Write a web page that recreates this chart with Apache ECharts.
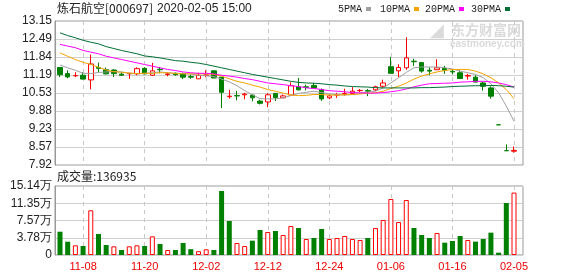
<!DOCTYPE html>
<html><head><meta charset="utf-8">
<script src="https://cdn.jsdelivr.net/npm/echarts@6/dist/echarts.min.js"></script>
<style>html,body{margin:0;padding:0;background:#fff}#c{width:578px;height:276px}</style>
</head><body><div id="c"></div>
<script>
var dates = ['11-05','11-06','11-07','11-08','11-11','11-12','11-13','11-14','11-15','11-18','11-19','11-20','11-21','11-22','11-25','11-26','11-27','11-28','11-29',
'12-02','12-03','12-04','12-05','12-06','12-09','12-10','12-11','12-12','12-13','12-16','12-17','12-18','12-19','12-20','12-23','12-24','12-25','12-26','12-27','12-30','12-31',
'01-02','01-03','01-06','01-07','01-08','01-09','01-10','01-13','01-14','01-15','01-16','01-17','01-20','01-21','01-22','01-23',
'02-03','02-04','02-05'];
var opens = [11.46,11.24,11.16,11.18,11.01,11.46,11.38,11.37,11.22,11.23,11.23,11.43,11.18,11.40,11.21,11.25,11.23,11.13,11.05,11.17,11.34,11.11,10.40,10.44,10.47,10.46,10.24,10.21,10.52,10.36,10.46,10.77,10.76,10.81,10.66,10.36,10.46,10.50,10.52,10.62,10.62,10.65,10.78,11.49,11.34,11.45,11.69,11.64,11.36,11.38,11.43,11.32,11.27,11.15,11.11,10.90,10.72,9.38,8.44,8.42];
var closes = [11.20,11.12,11.17,11.04,11.59,11.43,11.23,11.24,11.18,11.25,11.42,11.23,11.34,11.38,11.23,11.20,11.11,11.11,11.18,11.19,11.08,10.56,10.42,10.43,10.50,10.36,10.16,10.47,10.37,10.43,10.80,10.65,10.74,10.72,10.32,10.43,10.48,10.52,10.60,10.63,10.60,10.76,10.90,11.25,11.46,11.81,11.67,11.33,11.33,11.45,11.36,11.30,11.06,11.17,10.93,10.78,10.42,9.38,8.44,8.45];
var lows = [11.11,11.07,11.11,11.03,10.67,11.29,11.21,11.12,11.15,11.05,11.18,11.21,11.15,11.25,11.14,11.16,11.04,11.05,11.05,11.11,11.08,9.99,10.33,10.27,10.31,10.23,10.12,10.02,10.24,10.35,10.46,10.63,10.63,10.70,10.25,10.31,10.36,10.44,10.51,10.57,10.42,10.60,10.72,11.25,11.11,11.38,11.52,11.27,11.18,11.38,11.23,11.21,11.06,11.02,10.93,10.62,10.33,9.38,8.44,8.37];
var highs = [11.48,11.36,11.29,11.29,11.93,11.64,11.46,11.40,11.28,11.26,11.47,11.47,11.63,11.48,11.28,11.28,11.27,11.21,11.27,11.36,11.36,11.12,10.65,10.61,10.54,10.48,10.29,10.53,10.54,10.48,10.92,11.08,10.84,10.90,10.70,10.48,10.54,10.69,10.75,10.68,10.68,10.80,11.02,11.84,11.58,12.56,11.78,11.65,11.47,11.76,11.52,11.39,11.35,11.23,11.18,10.94,10.78,9.38,8.67,8.59];
var ma5 = [11.55,11.45,11.36,11.25,11.24,11.28,11.30,11.31,11.30,11.25,11.24,11.25,11.27,11.30,11.27,11.25,11.25,11.22,11.18,11.16,11.13,11.04,10.94,10.80,10.62,10.47,10.33,10.32,10.32,10.36,10.44,10.52,10.56,10.60,10.55,10.50,10.48,10.46,10.48,10.54,10.57,10.60,10.72,10.90,11.09,11.28,11.45,11.48,11.48,11.48,11.45,11.41,11.33,11.27,11.21,11.09,10.87,10.54,10.06,9.51];
var ma10 = [11.99,11.87,11.75,11.65,11.57,11.47,11.37,11.31,11.29,11.26,11.24,11.25,11.25,11.27,11.27,11.24,11.23,11.23,11.23,11.23,11.21,11.15,11.05,10.96,10.90,10.82,10.75,10.66,10.60,10.53,10.46,10.44,10.45,10.48,10.48,10.46,10.46,10.47,10.48,10.50,10.53,10.54,10.60,10.70,10.78,10.90,11.04,11.15,11.23,11.30,11.35,11.39,11.39,11.39,11.33,11.23,11.09,10.90,10.66,10.33];
var ma20 = [12.30,12.24,12.18,12.08,12.02,11.96,11.87,11.81,11.75,11.69,11.63,11.57,11.51,11.45,11.39,11.35,11.30,11.27,11.25,11.25,11.23,11.18,11.15,11.11,11.06,11.02,10.96,10.90,10.87,10.84,10.80,10.77,10.72,10.70,10.66,10.62,10.60,10.58,10.55,10.54,10.53,10.53,10.55,10.58,10.62,10.68,10.76,10.82,10.87,10.88,10.89,10.90,10.93,10.94,10.96,10.96,10.94,10.90,10.84,10.75];
var ma30 = [12.72,12.62,12.54,12.45,12.38,12.32,12.22,12.15,12.08,12.02,11.96,11.88,11.85,11.81,11.76,11.71,11.69,11.65,11.62,11.57,11.51,11.45,11.39,11.33,11.27,11.21,11.16,11.11,11.06,11.01,10.96,10.92,10.90,10.89,10.87,10.84,10.82,10.79,10.77,10.76,10.75,10.73,10.72,10.72,10.72,10.72,10.72,10.73,10.73,10.74,10.75,10.77,10.78,10.79,10.80,10.80,10.81,10.80,10.78,10.75];
var volumes = [51100,29200,21200,19700,98100,46100,21900,19000,11000,19000,21200,19700,41000,24100,11000,11000,26300,12800,8400,12500,11000,140400,74600,26300,19700,31400,54900,50500,52700,43900,63600,59200,35100,37300,57000,35100,37300,41700,35100,32900,37300,59200,76800,122900,72400,120700,59200,43900,37300,48300,27000,30700,41700,32900,29300,35100,49000,5100,114100,136935];
var volUp = [0,0,1,0,1,0,0,1,0,1,1,0,1,0,1,0,0,0,1,1,0,0,0,1,1,0,0,1,0,1,1,0,1,0,0,1,1,1,1,1,0,1,1,1,1,1,0,0,0,1,0,0,0,1,0,0,0,0,0,1];
var priceTicks = ['7.92','8.57','9.23','9.88','10.53','11.19','11.84','12.49','13.15'];
var volTicks = ['0','3.78万','7.57万','11.35万','15.14万'];
var priceMin = 7.92, priceMax = 13.15, volMax = 151400;
var titleName = '炼石航空[000697]', titleTime = '2020-02-05 15:00';
var volTitle = '成交量:136935';
var maNames = ['5PMA','10PMA','20PMA','30PMA'];
var maColors = ['#a0a0a0','#f5a400','#ff00ff','#006f35'];

var RED = '#ff0000', GREEN = '#008000';
var labelShow = function (idx) { return (idx - 3) % 8 === 0; };
var font = '"Liberation Sans", Arial, sans-serif';

var kData = opens.map(function (o, i) { return [o, closes[i], lows[i], highs[i]]; });
var volData = volumes.map(function (v, i) {
  return volUp[i] ? { value: v, itemStyle: { color: '#fff', borderColor: RED, borderWidth: 1 } }
                  : { value: v, itemStyle: { color: GREEN, borderColor: GREEN, borderWidth: 0 } };
});

var chart = echarts.init(document.getElementById('c'), null, { renderer: 'canvas' });

var legendGraphics = [];
var lx = [338, 380, 425, 471];
maNames.forEach(function (n, k) {
  legendGraphics.push({ type: 'text', left: lx[k], top: 4, style: { text: n, fill: '#222', font: '10px "Liberation Mono", monospace' } });
  legendGraphics.push({ type: 'rect', shape: { x: lx[k] + n.length * 6 + 4, y: 7, width: 5, height: 4 }, style: { fill: maColors[k] } });
});

var option = {
  animation: false,
  backgroundColor: '#fff',
  grid: [
    { left: 55, top: 21, width: 468, height: 144, show: true, borderColor: '#999', borderWidth: 1, backgroundColor: 'transparent' },
    { left: 60, top: 21, width: 454, height: 144 },
    { left: 55, top: 186, width: 468, height: 69, show: true, borderColor: '#999', borderWidth: 1, backgroundColor: 'transparent' },
    { left: 60, top: 186, width: 454, height: 69 }
  ],
  xAxis: [
    { gridIndex: 0, type: 'value', min: 0, max: 1, show: false },
    { gridIndex: 1, type: 'category', data: dates, boundaryGap: false,
      axisLine: { show: false }, axisTick: { show: false }, axisLabel: { show: false },
      splitLine: { show: true, interval: labelShow, lineStyle: { color: '#c8c8c8', type: [4, 4] } } },
    { gridIndex: 2, type: 'value', min: 0, max: 1, show: false },
    { gridIndex: 3, type: 'category', data: dates, boundaryGap: false,
      axisLine: { show: false }, axisTick: { show: false },
      axisLabel: { show: true, interval: labelShow, color: '#ee0000', fontSize: 11, fontFamily: font, margin: 6 },
      splitLine: { show: true, interval: labelShow, lineStyle: { color: '#c8c8c8', type: [4, 4] } } }
  ],
  yAxis: [
    { gridIndex: 0, type: 'value', min: 0, max: 8, interval: 1,
      axisLine: { show: true, lineStyle: { color: '#999', width: 1 } }, axisTick: { show: false },
      axisLabel: { color: '#222', fontSize: 12, fontFamily: font, margin: 3, formatter: function (v) { return priceTicks[v]; } },
      splitLine: { show: true, lineStyle: { color: '#cfcfcf' } } },
    { gridIndex: 1, type: 'value', min: priceMin, max: priceMax, show: false, splitLine: { show: false } },
    { gridIndex: 2, type: 'value', min: 0, max: 4, interval: 1,
      axisLine: { show: true, lineStyle: { color: '#999', width: 1 } }, axisTick: { show: false },
      axisLabel: { color: '#222', fontSize: 12, fontFamily: font, margin: 3, formatter: function (v) { return volTicks[v]; } },
      splitLine: { show: true, lineStyle: { color: '#cfcfcf' } } },
    { gridIndex: 3, type: 'value', min: 0, max: volMax, show: false, splitLine: { show: false } }
  ],
  series: [
    { type: 'candlestick', xAxisIndex: 1, yAxisIndex: 1, data: kData, barWidth: 5, clip: false,
      itemStyle: { color: '#fff', color0: GREEN, borderColor: RED, borderColor0: GREEN, borderWidth: 1 } },
    { type: 'line', name: maNames[0], xAxisIndex: 1, yAxisIndex: 1, data: ma5, showSymbol: false, symbol: 'none', lineStyle: { color: maColors[0], width: 1 }, z: 3 },
    { type: 'line', name: maNames[1], xAxisIndex: 1, yAxisIndex: 1, data: ma10, showSymbol: false, symbol: 'none', lineStyle: { color: maColors[1], width: 1 }, z: 3 },
    { type: 'line', name: maNames[2], xAxisIndex: 1, yAxisIndex: 1, data: ma20, showSymbol: false, symbol: 'none', lineStyle: { color: maColors[2], width: 1 }, z: 3 },
    { type: 'line', name: maNames[3], xAxisIndex: 1, yAxisIndex: 1, data: ma30, showSymbol: false, symbol: 'none', lineStyle: { color: maColors[3], width: 1 }, z: 3 },
    { type: 'bar', xAxisIndex: 3, yAxisIndex: 3, data: volData, barWidth: 5, clip: false }
  ],
  graphic: [
    { type: 'text', left: 57, top: 2, style: { text: titleName, fill: '#222', font: '12px "Noto Sans CJK SC", "Liberation Sans", sans-serif' } },
    { type: 'text', left: 157, top: 3, style: { text: titleTime, fill: '#222', font: '12px "Liberation Sans", Arial, sans-serif' } },
    { type: 'text', left: 57, top: 170, style: { text: volTitle, fill: '#222', font: '12px "Noto Sans CJK SC", "Liberation Sans", sans-serif' } },
    { type: 'text', left: 451, top: 23, z: 0, style: { text: '东方财富网', fill: '#dadada', font: 'bold 14px "Noto Sans CJK SC", sans-serif' } },
    { type: 'text', left: 450, top: 39, z: 0, style: { text: 'eastmoney.com', fill: '#dadada', font: 'bold 10px "Liberation Sans", sans-serif' } },
    { type: 'text', left: 430, top: 22, z: 0, style: { text: '◢', fill: '#dadada', font: 'bold 18px "DejaVu Sans", sans-serif' } }
  ].concat(legendGraphics)
};
chart.setOption(option);
</script>
</body></html>
